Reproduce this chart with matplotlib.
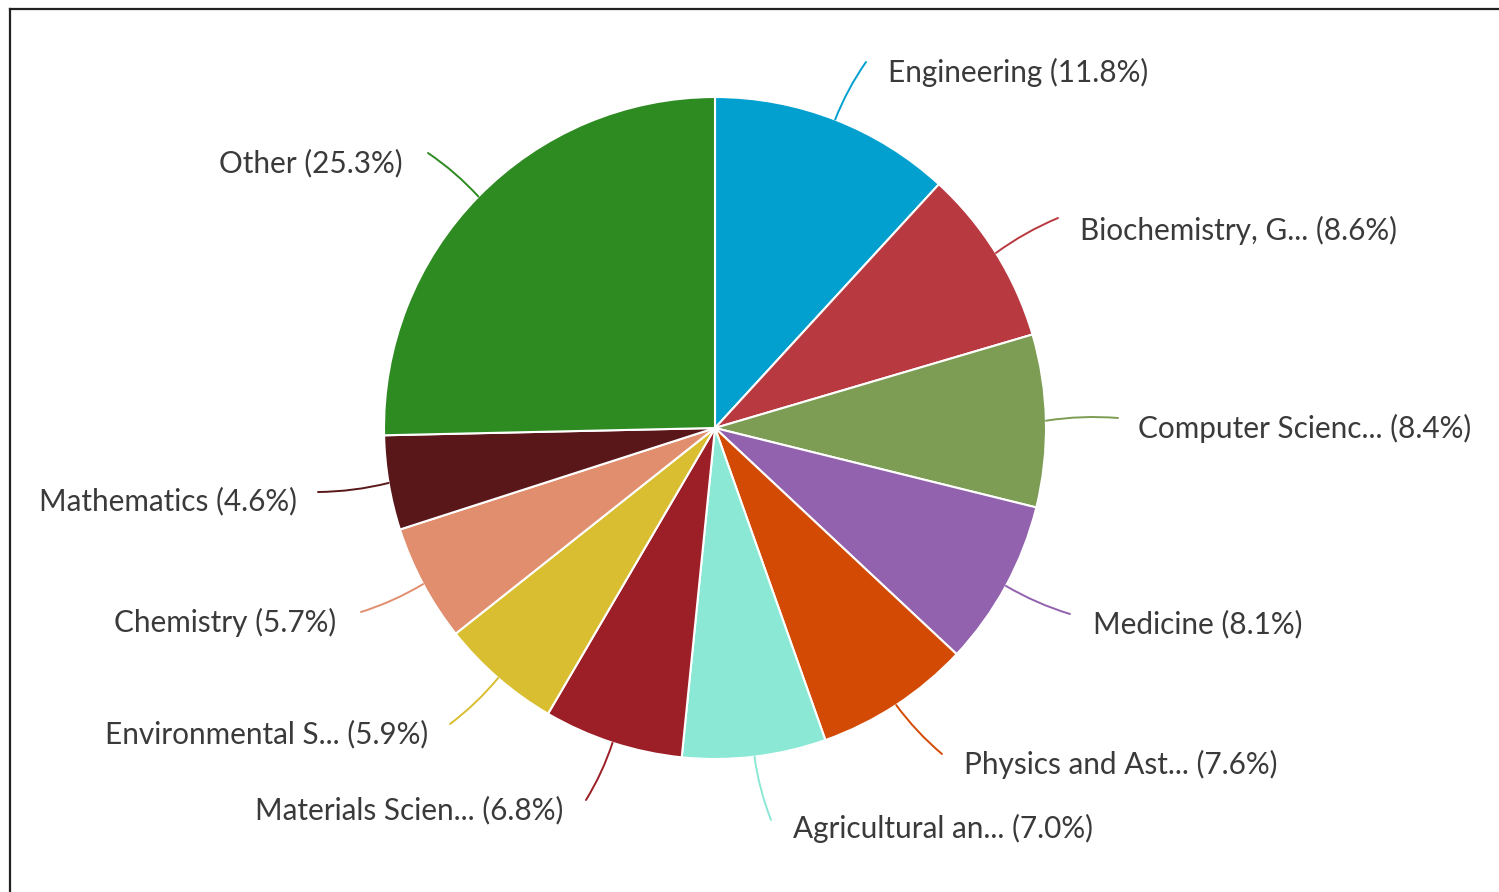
import numpy as np
import matplotlib
matplotlib.use("Agg")
from matplotlib import pyplot as plt
from matplotlib.lines import Line2D

plt.rcParams['font.family'] = ['Lato', 'DejaVu Sans']

# 数据
labels = ["Engineering", "Biochemistry, G...", "Computer Scienc...", "Medicine",
          "Physics and Ast...", "Agricultural an...", "Materials Scien...",
          "Environmental S...", "Chemistry", "Mathematics", "Other"]
shares = [11.8, 8.6, 8.4, 8.1, 7.6, 7.0, 6.8, 5.9, 5.7, 4.6, 25.3]
colors = ["#02A0CF", "#B8393F", "#7D9D54", "#9262AE", "#D24A04", "#8AE8D4",
          "#9C1E26", "#D8BE30", "#E18E6E", "#5A1719", "#2E8B22"]

# 标签位置（像素，y从上往下），连线终点
label_pos = [(888, 72), (1080, 230), (1138, 428), (1093, 624), (964, 764),
             (793, 828), (563, 810), (428, 734), (336, 622), (297, 501), (403, 163)]
line_end = [(866, 62), (1058, 218), (1118, 418), (1070, 614), (942, 754),
            (771, 820), (586, 800), (450, 724), (361, 612), (318, 492), (428, 153)]

W, H = 1499, 892
fig = plt.figure(figsize=(W / 100, H / 100), dpi=100)
ax = fig.add_axes([0, 0, 1, 1])
ax.set_xlim(0, W)
ax.set_ylim(0, H)
ax.set_aspect('equal')
ax.axis('off')

cx, cy, r = 715, H - 428, 331
wedges, _ = ax.pie(shares, colors=colors, startangle=90, counterclock=False,
                   center=(cx, cy), radius=r,
                   wedgeprops=dict(edgecolor='white', linewidth=1.5))
ax.set_xlim(0, W)
ax.set_ylim(0, H)

# 标签和连线
for w, lab, val, c, (tx, ty), (ex, ey) in zip(wedges, labels, shares, colors, label_pos, line_end):
    mid = np.deg2rad((w.theta1 + w.theta2) / 2)
    sx, sy = cx + r * np.cos(mid), cy + r * np.sin(mid)
    right = tx > cx
    rad = -0.06 if right else 0.06
    if sy < cy:
        rad = -rad
    ax.annotate("", xy=(ex, H - ey), xytext=(sx, sy),
                arrowprops=dict(arrowstyle='-', color=c, lw=1.4,
                                connectionstyle="arc3,rad=%s" % rad,
                                shrinkA=0, shrinkB=0))
    ax.text(tx, H - ty, "%s (%.1f%%)" % (lab, val), fontsize=21.4, color='#3a3a3a',
            ha='left' if right else 'right', va='center')

# 边框
fig.add_artist(Line2D([10 / W, 1], [1 - 9 / H, 1 - 9 / H], color='#222222', lw=1.6))
fig.add_artist(Line2D([10 / W, 10 / W], [0, 1 - 9 / H], color='#222222', lw=1.6))

fig.savefig("out.png", dpi=100)
